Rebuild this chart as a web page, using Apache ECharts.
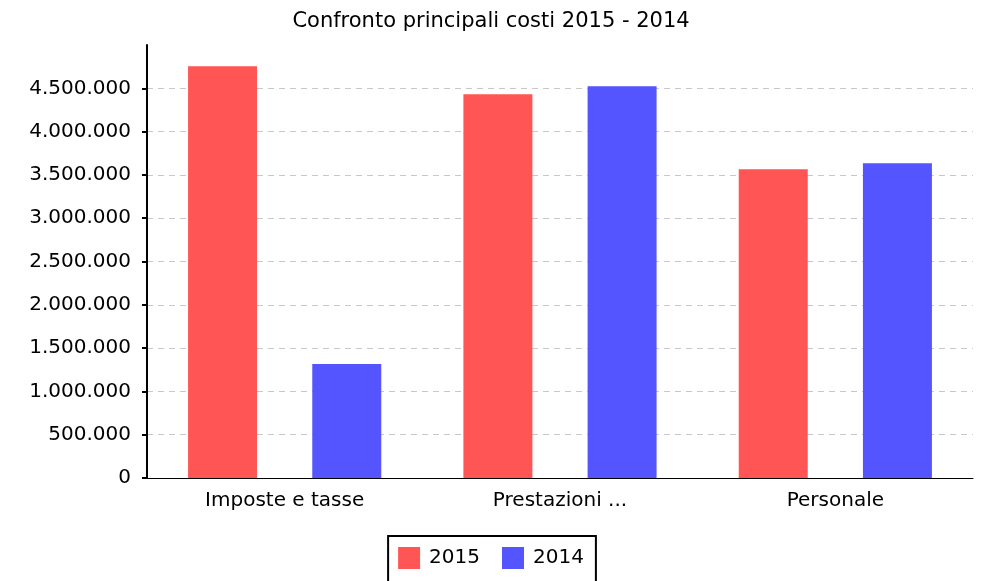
<!DOCTYPE html>
<html>
<head>
<meta charset="utf-8">
<script src="https://cdn.jsdelivr.net/npm/echarts@6/dist/echarts.min.js"></script>
<style>
  html, body { margin: 0; padding: 0; background: #fff; }
  #chart { width: 982px; height: 581px; }
</style>
</head>
<body>
<div id="chart"></div>
<script>
const categories = ['Imposte e tasse', 'Prestazioni ...', 'Personale'];
const values2015 = [4755000, 4432000, 3565000];
const values2014 = [1315000, 4525000, 3634000];
const seriesNames = ['2015', '2014'];

function formatIt(v)
{
    return String(v).replace(/\B(?=(\d{3})+(?!\d))/g, '.');
}

const font = 'DejaVu Sans';

const chart = echarts.init(document.getElementById('chart'));

chart.setOption({
    animation: false,
    title: {
        text: 'Confronto principali costi 2015 - 2014',
        left: 'center',
        top: 6,
        textStyle: { fontFamily: font, fontSize: 21, fontWeight: 'normal', color: '#000' }
    },
    legend: {
        bottom: -2,
        left: 'center',
        data: seriesNames,
        icon: 'rect',
        itemWidth: 22,
        itemHeight: 22,
        itemGap: 22,
        padding: [11, 12, 14, 10],
        borderColor: '#000',
        borderWidth: 2,
        borderRadius: 0,
        textStyle: { fontFamily: font, fontSize: 20, color: '#000', padding: [0, 0, 0, 4] }
    },
    grid: { left: 147, right: 9, top: 45, bottom: 103 },
    xAxis: {
        type: 'category',
        data: categories,
        axisLine: { lineStyle: { color: '#000', width: 1 } },
        axisTick: { show: false },
        axisLabel: { fontFamily: font, fontSize: 20, color: '#000', margin: 13 }
    },
    yAxis: {
        type: 'value',
        min: 0,
        max: 5000000,
        interval: 500000,
        axisLine: { show: true, lineStyle: { color: '#000', width: 2 } },
        axisTick: { show: true, length: 5, lineStyle: { color: '#000', width: 2 } },
        axisLabel: {
            fontFamily: font, fontSize: 20, color: '#000', margin: 16,
            showMaxLabel: false,
            formatter: formatIt
        },
        splitLine: { showMaxLine: false, lineStyle: { color: '#c8c8c8', type: [6, 5], width: 1 } }
    },
    series: [
        {
            name: seriesNames[0],
            type: 'bar',
            data: values2015,
            barWidth: 69,
            barGap: '80%',
            itemStyle: { color: '#ff5555' }
        },
        {
            name: seriesNames[1],
            type: 'bar',
            data: values2014,
            barWidth: 69,
            itemStyle: { color: '#5555ff' }
        }
    ]
});
</script>
</body>
</html>
